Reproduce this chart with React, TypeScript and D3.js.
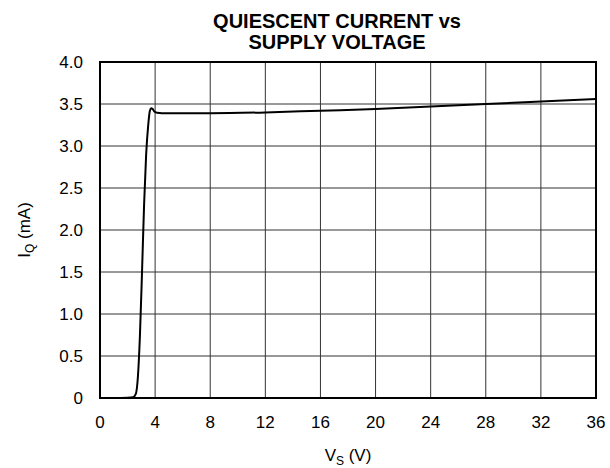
import { useEffect, useRef } from 'react';
import * as d3 from 'd3';

const vs = [0, 1, 2, 2.4, 2.6, 2.75, 2.9, 3.05, 3.2, 3.35, 3.5, 3.62, 3.72, 3.82, 3.95, 4.15, 4.5, 6, 8, 12, 16, 20, 24, 28, 32, 36];
const iq = [0, 0, 0.003, 0.01, 0.05, 0.25, 0.75, 1.5, 2.3, 2.9, 3.25, 3.42, 3.45, 3.44, 3.41, 3.395, 3.39, 3.39, 3.39, 3.4, 3.42, 3.44, 3.47, 3.5, 3.53, 3.56];
const xTicks = [0, 4, 8, 12, 16, 20, 24, 28, 32, 36];
const yTicks = [0, 0.5, 1.0, 1.5, 2.0, 2.5, 3.0, 3.5, 4.0];

export default function App() {
  const svgRef = useRef<SVGSVGElement>(null);

  useEffect(() => {
    if (!svgRef.current) return;
    const svg = d3.select(svgRef.current);
    svg.selectAll('*').remove();

    const margin = { top: 62, right: 14, bottom: 70, left: 100 };
    const W = 610, H = 468;
    const width = W - margin.left - margin.right;
    const height = H - margin.top - margin.bottom;
    const font = 'Liberation Sans, Arial, Helvetica, sans-serif';

    const x = d3.scaleLinear().domain([0, 36]).range([0, width]);
    const y = d3.scaleLinear().domain([0, 4]).range([height, 0]);

    const g = svg.append('g').attr('transform', `translate(${margin.left},${margin.top})`);

    // grid
    g.selectAll('.vgrid')
      .data(xTicks.slice(1, -1))
      .enter()
      .append('line')
      .attr('x1', d => x(d)).attr('x2', d => x(d))
      .attr('y1', 0).attr('y2', height)
      .attr('stroke', '#333').attr('stroke-width', 1);
    g.selectAll('.hgrid')
      .data(yTicks.slice(1, -1))
      .enter()
      .append('line')
      .attr('y1', d => y(d)).attr('y2', d => y(d))
      .attr('x1', 0).attr('x2', width)
      .attr('stroke', '#333').attr('stroke-width', 1);

    // curve
    const line = d3.line<number>()
      .x((_, i) => x(vs[i]))
      .y(d => y(d))
      .curve(d3.curveMonotoneX);
    g.append('path')
      .datum(iq)
      .attr('d', line)
      .attr('fill', 'none')
      .attr('stroke', '#000')
      .attr('stroke-width', 2);

    // frame
    g.append('rect')
      .attr('width', width).attr('height', height)
      .attr('fill', 'none').attr('stroke', '#000').attr('stroke-width', 2);

    // tick labels
    g.selectAll('.xt')
      .data(xTicks)
      .enter()
      .append('text')
      .attr('x', d => x(d))
      .attr('y', height + 30)
      .attr('text-anchor', 'middle')
      .style('font-family', font).style('font-size', '17px')
      .text(d => String(d));
    g.selectAll('.yt')
      .data(yTicks)
      .enter()
      .append('text')
      .attr('x', -17)
      .attr('y', d => y(d) + 6)
      .attr('text-anchor', 'end')
      .style('font-family', font).style('font-size', '17px')
      .text(d => (d === 0 ? '0' : d.toFixed(1)));

    // title, two lines
    const titleLines = ['QUIESCENT CURRENT vs', 'SUPPLY VOLTAGE'];
    svg.selectAll('.title')
      .data(titleLines)
      .enter()
      .append('text')
      .attr('x', 337)
      .attr('y', (_, i) => 28 + i * 21)
      .attr('text-anchor', 'middle')
      .style('font-family', font).style('font-size', '20px').style('font-weight', 'bold')
      .text(d => d);

    // x label
    const xl = svg.append('text')
      .attr('x', margin.left + width / 2)
      .attr('y', 461)
      .attr('text-anchor', 'middle')
      .style('font-family', font).style('font-size', '17px');
    xl.append('tspan').text('V');
    xl.append('tspan').attr('dy', 4).style('font-size', '12px').text('S');
    xl.append('tspan').attr('dy', -4).text(' (V)');

    // y label
    const yl = svg.append('text')
      .attr('transform', `translate(30,${margin.top + height / 2}) rotate(-90)`)
      .attr('text-anchor', 'middle')
      .style('font-family', font).style('font-size', '17px');
    yl.append('tspan').text('I');
    yl.append('tspan').attr('dy', 4).style('font-size', '12px').text('Q');
    yl.append('tspan').attr('dy', -4).text(' (mA)');
  }, []);

  return (
    <div style={{ position: 'fixed', top: 0, left: 0, width: 610, height: 468, background: '#fff' }}>
      <svg ref={svgRef} width={610} height={468} style={{ display: 'block' }}></svg>
    </div>
  );
}
